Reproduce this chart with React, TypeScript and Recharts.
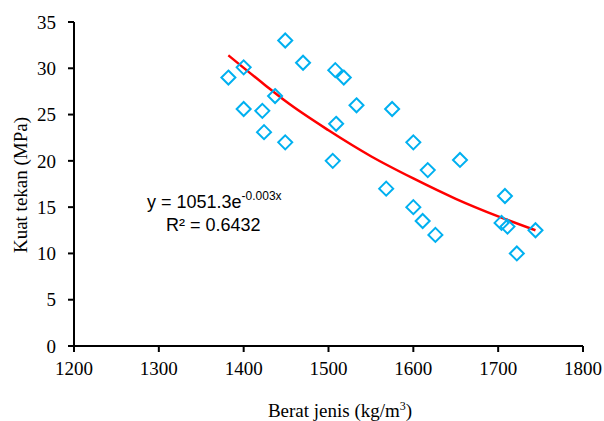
import { ComposedChart, Scatter, Line, XAxis, YAxis, Label } from "recharts"

// Berat jenis (kg/m3) vs kuat tekan (MPa)
const beratJenis = [
  1382, 1400, 1400, 1422, 1424, 1437, 1449, 1449, 1470, 1508, 1518, 1533, 1575, 1509,
  1600, 1505, 1655, 1617, 1568, 1708, 1600, 1611, 1626, 1704, 1711, 1744, 1722,
]
const kuatTekan = [
  29, 30.1, 25.6, 25.4, 23.1, 27, 33, 22, 30.6, 29.8, 29, 26, 25.6, 24,
  22, 20, 20.1, 19, 17, 16.2, 15, 13.5, 12, 13.3, 12.9, 12.5, 10,
]

// exponential trend line
const trendX = [1382, 1425, 1450, 1500, 1550, 1600, 1650, 1700, 1744]
const trendY = [31.4, 28.2, 26.4, 23.3, 20.5, 18.1, 15.9, 14.0, 12.5]

const xTicks = [1200, 1300, 1400, 1500, 1600, 1700, 1800]
const yTicks = [0, 5, 10, 15, 20, 25, 30, 35]

const points = beratJenis.map((x, i) => ({ x, y: kuatTekan[i] }))
const trend = trendX.map((x, i) => ({ x, y: trendY[i] }))

const SERIF = "'Liberation Serif', 'Times New Roman', serif"
const SANS = "'Liberation Sans', Arial, sans-serif"

function Diamond(props: any) {
  const { cx, cy } = props
  if (cx == null || cy == null) return null
  const r = 7
  return (
    <path
      d={`M${cx},${cy - r}L${cx + r},${cy}L${cx},${cy + r}L${cx - r},${cy}Z`}
      fill="none"
      stroke="#00B0F0"
      strokeWidth={2}
    />
  )
}

export default function App() {
  const tick = { fontSize: 19, fontFamily: SERIF, fill: "#000" }
  return (
    <div style={{ position: "absolute", left: 0, top: 0, background: "#fff" }}>
      <ComposedChart
        width={604}
        height={421}
        margin={{ top: 22, right: 21, bottom: 45, left: 20 }}
      >
        <XAxis
          type="number"
          dataKey="x"
          domain={[1200, 1800]}
          ticks={xTicks}
          tick={tick}
          height={30}
          tickSize={6}
          tickMargin={10}
          axisLine={{ stroke: "#000", strokeWidth: 2 }}
          tickLine={{ stroke: "#000", strokeWidth: 2 }}
          allowDataOverflow
        >
          <Label
            content={() => (
              <text x={340} y={417} textAnchor="middle" fontFamily={SERIF} fontSize={19} fill="#000">
                Berat jenis (kg/m
                <tspan fontSize={12} dy={-7}>3</tspan>
                <tspan dy={7}>)</tspan>
              </text>
            )}
          />
        </XAxis>
        <YAxis
          type="number"
          dataKey="y"
          domain={[0, 35]}
          ticks={yTicks}
          tick={tick}
          width={54}
          tickSize={6}
          tickMargin={12}
          axisLine={{ stroke: "#000", strokeWidth: 2 }}
          tickLine={{ stroke: "#000", strokeWidth: 2 }}
          allowDataOverflow
        >
          <Label
            content={() => (
              <text
                x={20}
                y={185}
                transform="rotate(-90 20 185)"
                textAnchor="middle"
                dominantBaseline="central"
                fontFamily={SERIF}
                fontSize={19}
                fill="#000"
              >
                Kuat tekan (MPa)
              </text>
            )}
          />
        </YAxis>
        <Line
          data={trend}
          dataKey="y"
          type="monotone"
          stroke="#FF0000"
          strokeWidth={2.5}
          dot={false}
          activeDot={false}
          isAnimationActive={false}
        />
        <Scatter data={points} dataKey="y" shape={<Diamond />} isAnimationActive={false} />
        <text x={147} y={208} fontFamily={SANS} fontSize={18} fill="#000">
          y = 1051.3e
          <tspan fontSize={12} dy={-8}>-0.003x</tspan>
        </text>
        <text x={166} y={231} fontFamily={SANS} fontSize={18} fill="#000">
          R² = 0.6432
        </text>
      </ComposedChart>
    </div>
  )
}
